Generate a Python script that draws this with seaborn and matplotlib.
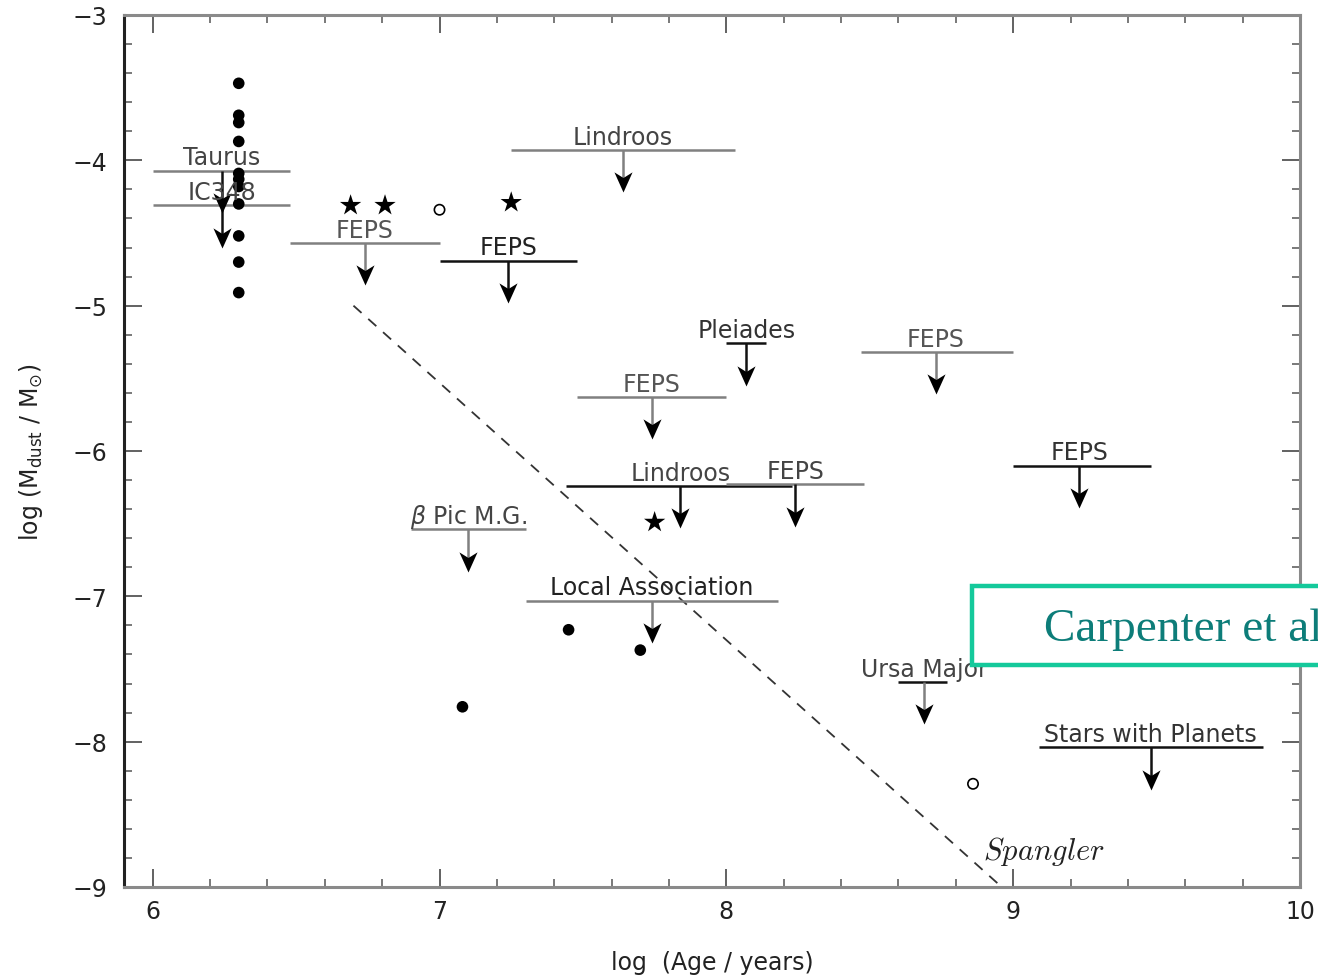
import numpy as np
import pandas as pd
import matplotlib
matplotlib.use("Agg")
import matplotlib.pyplot as plt
import seaborn as sns
from matplotlib.path import Path
from matplotlib.patches import Rectangle
from matplotlib.ticker import MultipleLocator

# ---------------- data ----------------
# Taurus / IC348 detections (filled dots)
taurus_x = [6.30] * 11
taurus_y = [-3.47, -3.69, -3.74, -3.87, -4.09, -4.13, -4.18, -4.30, -4.52, -4.70, -4.91]
# other filled dots
dots_x = [7.45, 7.70, 7.08]
dots_y = [-7.23, -7.37, -7.76]
# open circles
open_x = [7.00, 8.86]
open_y = [-4.34, -8.29]
# stars
star_x = [6.69, 6.81, 7.25, 7.75]
star_y = [-4.31, -4.31, -4.29, -6.49]

# upper limits: label, horizontal extent, level, arrow position
lim_labels = ["Taurus", "IC348", "FEPS", "FEPS", "Lindroos", "Pleiades", "FEPS",
              "Lindroos", "FEPS", r"$\beta$ Pic M.G.", "Local Association",
              "FEPS", "FEPS", "Ursa Major", "Stars with Planets"]
lim_x0 = [6.00, 6.00, 6.48, 7.00, 7.25, 8.00, 7.48, 7.44, 8.00, 6.90, 7.30, 8.47, 9.00, 8.60, 9.09]
lim_x1 = [6.48, 6.48, 7.00, 7.48, 8.03, 8.14, 8.00, 8.23, 8.48, 7.30, 8.18, 9.00, 9.48, 8.77, 9.87]
lim_y = [-4.07, -4.31, -4.57, -4.69, -3.93, -5.26, -5.63, -6.24, -6.23, -6.54, -7.03,
         -5.32, -6.10, -7.59, -8.04]
lim_xa = [6.24, 6.24, 6.74, 7.24, 7.64, 8.07, 7.74, 7.84, 8.24, 7.10, 7.74, 8.73, 9.23, 8.69, 9.48]

# Spangler relation
spangler_x = [6.70, 8.96]
spangler_y = [-5.0, -9.0]

x_ticks = [6, 7, 8, 9, 10]
y_ticks = [-9, -8, -7, -6, -5, -4, -3]

# ---------------- style ----------------
sns.set_theme(style="ticks")
plt.rcParams["font.family"] = ["DejaVu Sans"]

ARROW_LEN = 0.29
GRAY = "#808080"
DARK = "#111111"
line_dark = [False, False, False, True, False, True, False, True, False, False, False,
             False, True, True, True]
shaft_dark = [True, True, False, True, False, True, False, True, True, False, False,
              False, True, False, True]
text_col = ["#444444", "#444444", "#555555", "#222222", "#444444", "#333333", "#555555",
            "#444444", "#444444", "#444444", "#222222", "#555555", "#333333", "#444444",
            "#333333"]

fig = plt.figure(figsize=(13.18, 9.78), dpi=100)
ax = fig.add_axes([124 / 1318, 1 - 888 / 978, (1300 - 124) / 1318, (888 - 16) / 978])

# Spangler dashed line
sns.lineplot(x=spangler_x, y=spangler_y, ax=ax, color="#333333", lw=1.3,
             dashes=False, linestyle=(0, (6, 5)), zorder=2)

# points
df_dots = pd.DataFrame({"x": taurus_x + dots_x, "y": taurus_y + dots_y})
sns.scatterplot(data=df_dots, x="x", y="y", ax=ax, color="black", s=70,
                edgecolor="none", zorder=4)
sns.scatterplot(x=open_x, y=open_y, ax=ax, marker="o", s=55, facecolor="none",
                edgecolor="black", linewidth=1.2, zorder=4)
sns.scatterplot(x=star_x, y=star_y, ax=ax, marker="*", s=260, color="black",
                edgecolor="none", zorder=4)

# arrowhead marker (tip at origin)
head = Path([(0, 0), (0.45, 1.0), (0, 0.72), (-0.45, 1.0), (0, 0)],
            [Path.MOVETO, Path.LINETO, Path.LINETO, Path.LINETO, Path.CLOSEPOLY])

for i, lab in enumerate(lim_labels):
    lc = DARK if line_dark[i] else GRAY
    sc = DARK if shaft_dark[i] else GRAY
    ax.hlines(lim_y[i], lim_x0[i], lim_x1[i], color=lc, lw=1.8, zorder=3)
    ax.vlines(lim_xa[i], lim_y[i] - ARROW_LEN + 0.06, lim_y[i], color=sc, lw=1.8, zorder=3)
    ax.plot([lim_xa[i]], [lim_y[i] - ARROW_LEN], marker=head, ms=29, color="black",
            mec="black", mew=0, zorder=5)
    ax.annotate(lab, (lim_xa[i], lim_y[i]), xytext=(0, 4.5), textcoords="offset points",
                ha="center", va="baseline", fontsize=17, color=text_col[i], zorder=6)

ax.text(8.895, -8.75, r"$Spangler$", fontsize=22, math_fontfamily="cm",
        ha="left", va="center", color="#222222")

# axes
ax.set_xlim(5.9, 10)
ax.set_ylim(-9, -3)
ax.set_xticks(x_ticks)
ax.set_yticks(y_ticks)
ax.xaxis.set_minor_locator(MultipleLocator(0.2))
ax.yaxis.set_minor_locator(MultipleLocator(0.2))
ax.tick_params(which="both", direction="in", top=True, right=True, color="#555555",
               labelsize=17, labelcolor="#222222")
ax.tick_params(which="major", length=13, width=1.3)
ax.tick_params(which="minor", length=6, width=1.1)
ax.tick_params(axis="x", which="major", pad=9)
ax.tick_params(axis="y", which="major", pad=12)
for side in ["top", "right", "bottom"]:
    ax.spines[side].set_color("#8a8a8a")
    ax.spines[side].set_linewidth(2.2)
ax.spines["left"].set_color("#222222")
ax.spines["left"].set_linewidth(2.2)

ax.set_xlabel("log  (Age / years)", fontsize=17, color="#222222", labelpad=19)
ax.set_ylabel(r"log (M$_{\mathrm{dust}}$ / M$_{\odot}$)", fontsize=17, color="#222222",
              labelpad=20)

# overlay box
fig.patches.append(Rectangle((972 / 1318, 1 - 666 / 978), 0.4, 79 / 978,
                             transform=fig.transFigure, facecolor="white",
                             edgecolor="#14c99b", lw=3.2, zorder=10))
fig.text(1044 / 1318, 1 - 641 / 978, "Carpenter et al", fontsize=34,
         family="Liberation Serif", color="#0d7d79", ha="left", va="baseline", zorder=11)

fig.savefig("out.png", dpi=100)
